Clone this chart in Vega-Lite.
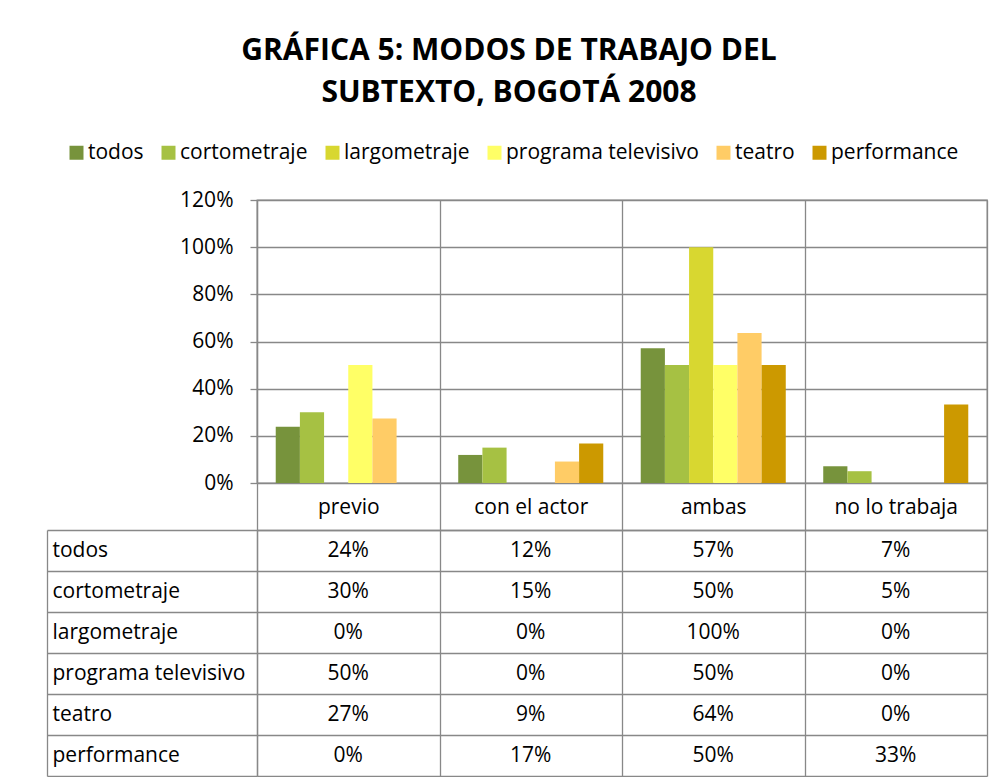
{
  "$schema": "https://vega.github.io/schema/vega-lite/v6.json",
  "autosize": {"type": "pad"},
  "padding": {"left": 46, "top": 36, "right": 10, "bottom": 0},
  "background": "white",
  "title": {
    "text": ["GRÁFICA 5: MODOS DE TRABAJO DEL", "SUBTEXTO, BOGOTÁ 2008"],
    "font": "Open Sans",
    "fontSize": 30,
    "fontWeight": "bold",
    "lineHeight": 42,
    "color": "#000000",
    "anchor": "middle",
    "frame": "bounds",
    "dx": -8,
    "offset": 34
  },
  "data": {
    "values": [
      {"modo": "previo", "serie": "todos", "valor": 0.238},
      {"modo": "con el actor", "serie": "todos", "valor": 0.119},
      {"modo": "ambas", "serie": "todos", "valor": 0.571},
      {"modo": "no lo trabaja", "serie": "todos", "valor": 0.071},
      {"modo": "previo", "serie": "cortometraje", "valor": 0.30},
      {"modo": "con el actor", "serie": "cortometraje", "valor": 0.15},
      {"modo": "ambas", "serie": "cortometraje", "valor": 0.50},
      {"modo": "no lo trabaja", "serie": "cortometraje", "valor": 0.05},
      {"modo": "previo", "serie": "largometraje", "valor": 0},
      {"modo": "con el actor", "serie": "largometraje", "valor": 0},
      {"modo": "ambas", "serie": "largometraje", "valor": 1.0},
      {"modo": "no lo trabaja", "serie": "largometraje", "valor": 0},
      {"modo": "previo", "serie": "programa televisivo", "valor": 0.50},
      {"modo": "con el actor", "serie": "programa televisivo", "valor": 0},
      {"modo": "ambas", "serie": "programa televisivo", "valor": 0.50},
      {"modo": "no lo trabaja", "serie": "programa televisivo", "valor": 0},
      {"modo": "previo", "serie": "teatro", "valor": 0.273},
      {"modo": "con el actor", "serie": "teatro", "valor": 0.091},
      {"modo": "ambas", "serie": "teatro", "valor": 0.636},
      {"modo": "no lo trabaja", "serie": "teatro", "valor": 0},
      {"modo": "previo", "serie": "performance", "valor": 0},
      {"modo": "con el actor", "serie": "performance", "valor": 0.167},
      {"modo": "ambas", "serie": "performance", "valor": 0.50},
      {"modo": "no lo trabaja", "serie": "performance", "valor": 0.333}
    ]
  },
  "spacing": 47,
  "bounds": "flush",
  "resolve": {"scale": {"x": "independent", "y": "independent"}},
  "vconcat": [
    {
      "width": 730,
      "height": 283,
      "view": {"stroke": "#888888", "strokeWidth": 1.3},
      "mark": {"type": "bar"},
      "encoding": {
        "x": {
          "field": "modo",
          "type": "nominal",
          "sort": ["previo", "con el actor", "ambas", "no lo trabaja"],
          "scale": {"paddingInner": 0, "paddingOuter": 0},
          "axis": {"title": null, "labels": false, "ticks": false, "domain": false, "grid": true, "tickBand": "extent", "gridColor": "#888888", "gridWidth": 1.3}
        },
        "xOffset": {
          "field": "serie",
          "type": "nominal",
          "sort": ["todos", "cortometraje", "largometraje", "programa televisivo", "teatro", "performance"],
          "scale": {"paddingInner": 0, "paddingOuter": 0.775}
        },
        "y": {
          "field": "valor",
          "type": "quantitative",
          "scale": {"domain": [0, 1.2], "nice": false},
          "axis": {
            "title": null,
            "values": [0, 0.2, 0.4, 0.6, 0.8, 1.0, 1.2],
            "format": ".0%",
            "tickSize": 7,
            "tickColor": "#888888",
            "tickWidth": 1.3,
            "domainColor": "#888888",
            "domainWidth": 1.3,
            "gridColor": "#888888",
            "gridWidth": 1.3,
            "labelPadding": 17,
            "labelFont": "Open Sans",
            "labelFontSize": 21,
            "labelColor": "#000000"
          }
        },
        "color": {
          "field": "serie",
          "type": "nominal",
          "scale": {
            "domain": ["todos", "cortometraje", "largometraje", "programa televisivo", "teatro", "performance"],
            "range": ["#77933C", "#A6C143", "#D8D730", "#FFFF66", "#FFCC66", "#CC9900"]
          },
          "legend": {
            "title": null,
            "orient": "none",
            "legendX": -191,
            "legendY": -58,
            "direction": "horizontal",
            "symbolType": "square",
            "symbolSize": 196,
            "symbolStrokeWidth": 0,
            "symbolOpacity": 1,
            "labelFont": "Open Sans",
            "labelFontSize": 21,
            "labelColor": "#000000",
            "labelLimit": 400,
            "labelOffset": 1,
            "columnPadding": 14
          }
        }
      }
    },
    {
      "width": 730,
      "height": 246,
      "view": {"stroke": null},
      "layer": [
        {
          "mark": {"type": "text", "font": "Open Sans", "fontSize": 21, "color": "#000000"},
          "encoding": {
            "x": {
              "field": "modo",
              "type": "nominal",
              "sort": ["previo", "con el actor", "ambas", "no lo trabaja"],
              "scale": {"paddingInner": 0, "paddingOuter": 0},
              "axis": {
                "orient": "top",
                "title": null,
                "tickBand": "extent",
                "tickSize": 47,
                "tickColor": "#888888",
                "tickWidth": 1.3,
                "domainColor": "#888888",
                "domainWidth": 1.3,
                "grid": true,
                "gridColor": "#888888",
                "gridWidth": 1.3,
                "labelPadding": -24,
                "labelBaseline": "middle",
                "labelAngle": 0,
                "labelFont": "Open Sans",
                "labelFontSize": 21,
                "labelColor": "#000000"
              }
            },
            "y": {
              "field": "serie",
              "type": "nominal",
              "sort": ["todos", "cortometraje", "largometraje", "programa televisivo", "teatro", "performance"],
              "scale": {"paddingInner": 0, "paddingOuter": 0},
              "axis": {
                "orient": "left",
                "title": null,
                "tickBand": "extent",
                "tickSize": 210,
                "tickColor": "#888888",
                "tickWidth": 1.3,
                "domainColor": "#888888",
                "domainWidth": 1.3,
                "grid": true,
                "gridColor": "#888888",
                "gridWidth": 1.3,
                "labelAlign": "left",
                "labelBaseline": "middle",
                "labelPadding": -5,
                "labelOverlap": false,
                "labelLimit": 300,
                "labelFont": "Open Sans",
                "labelFontSize": 21,
                "labelColor": "#000000"
              }
            },
            "text": {"field": "valor", "type": "quantitative", "format": ".0%"}
          }
        },
        {
          "mark": {"type": "text", "opacity": 0},
          "encoding": {
            "y": {
              "field": "serie",
              "type": "nominal",
              "sort": ["todos", "cortometraje", "largometraje", "programa televisivo", "teatro", "performance"],
              "axis": {
                "orient": "left",
                "offset": 210,
                "title": null,
                "labels": false,
                "ticks": false,
                "grid": false,
                "domain": true,
                "domainColor": "#888888",
                "domainWidth": 1.3
              }
            },
            "text": {"field": "valor", "type": "quantitative", "format": ".0%"}
          }
        }
      ],
      "resolve": {"axis": {"y": "independent"}}
    }
  ]
}
